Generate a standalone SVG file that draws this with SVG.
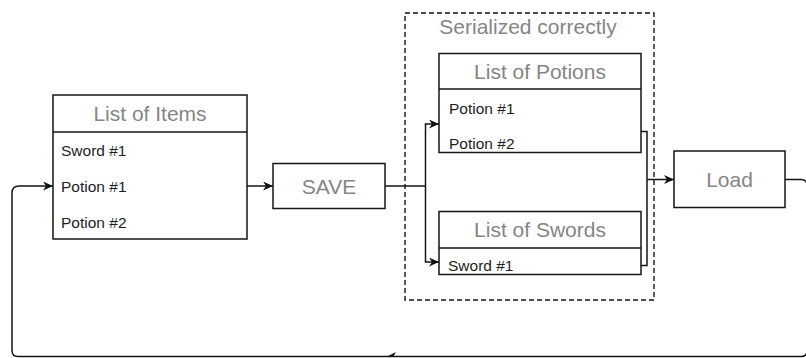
<svg xmlns="http://www.w3.org/2000/svg" width="806" height="358" viewBox="0 0 806 358">
  <defs>
    <marker id="arrow" markerUnits="userSpaceOnUse" markerWidth="11" markerHeight="9" refX="10" refY="4.5" orient="auto">
      <path d="M0,0 L10,4.5 L0,9 L3,4.5 Z" fill="#111"/>
    </marker>
  </defs>
  <style>
    .box { fill: #fff; stroke: #151515; stroke-width: 1.5; }
    .sep { stroke: #151515; stroke-width: 1.5; }
    .title { font-family: "Liberation Sans", Arial, sans-serif; font-size: 21px; fill: #858585; text-anchor: middle; }
    .item { font-family: "Liberation Sans", Arial, sans-serif; font-size: 15.5px; fill: #1e1e1e; }
    .wire { fill: none; stroke: #151515; stroke-width: 1.5; }
    .frame { fill: none; stroke: #151515; stroke-width: 1.4; stroke-dasharray: 5 3; }
  </style>
  <rect width="806" height="358" fill="#fff"/>

  <!-- dashed group around the two typed lists -->
  <g id="serialized-group">
    <rect class="frame" x="405" y="13" width="249" height="287"/>
    <text class="title" x="528" y="34">Serialized correctly</text>
  </g>

  <!-- connectors -->
  <g id="connectors">
    <!-- items list to SAVE -->
    <path class="wire" d="M247,186 L273,186" marker-end="url(#arrow)"/>
    <!-- SAVE splits into the two lists -->
    <path class="wire" d="M385,186 L425.5,186"/>
    <path class="wire" d="M425.5,186 L425.5,124 L439,124" marker-end="url(#arrow)"/>
    <path class="wire" d="M425.5,186 L425.5,262 L439,262" marker-end="url(#arrow)"/>
    <!-- both lists merge into Load -->
    <path class="wire" d="M641,131.5 L647,131.5 L647,265.5 L641,265.5"/>
    <path class="wire" d="M647,179.5 L674,179.5" marker-end="url(#arrow)"/>
    <!-- loop back from Load to the items list -->
    <path class="wire" d="M785,179.5 L801,179.5 Q807,179.5 807,185.5 L807,351 Q807,356.5 801,356.5 L18,356.5 Q12,356.5 12,350.5 L12,193 Q12,186 19,186 L53,186" marker-end="url(#arrow)"/>
    <path d="M386,357 L396,352 L393,357 Z" fill="#111"/>
  </g>

  <g id="list-of-items">
    <rect class="box" x="53" y="95" width="194" height="144"/>
    <line class="sep" x1="53" y1="132" x2="247" y2="132"/>
    <text class="title" x="150" y="121">List of Items</text>
    <text class="item" x="61" y="156">Sword #1</text>
    <text class="item" x="61" y="192">Potion #1</text>
    <text class="item" x="61" y="228">Potion #2</text>
  </g>

  <g id="save">
    <rect class="box" x="273" y="163.5" width="112" height="45"/>
    <text class="title" x="329" y="194">SAVE</text>
  </g>

  <g id="list-of-potions">
    <rect class="box" x="439" y="53.5" width="202" height="99"/>
    <line class="sep" x1="439" y1="89" x2="641" y2="89"/>
    <text class="title" x="540" y="79">List of Potions</text>
    <text class="item" x="449" y="114">Potion #1</text>
    <text class="item" x="449" y="149">Potion #2</text>
  </g>

  <g id="list-of-swords">
    <rect class="box" x="439" y="211.5" width="202" height="63"/>
    <line class="sep" x1="439" y1="248" x2="641" y2="248"/>
    <text class="title" x="540" y="237">List of Swords</text>
    <text class="item" x="448" y="271">Sword #1</text>
  </g>

  <g id="load">
    <rect class="box" x="674" y="151" width="111" height="56.5"/>
    <text class="title" x="729.5" y="187">Load</text>
  </g>
</svg>
